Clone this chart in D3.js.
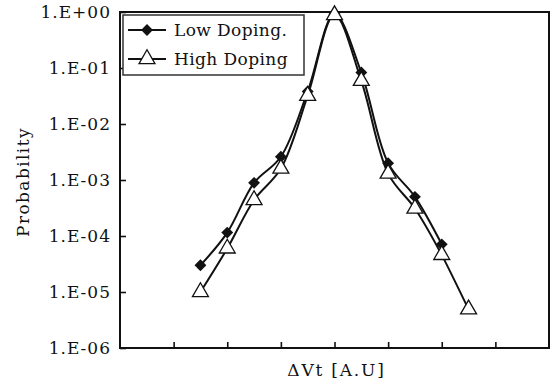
<!DOCTYPE html>
<html>
<head>
<meta charset="utf-8">
<script src="https://cdn.jsdelivr.net/npm/d3@7"></script>
<style>
  body { margin: 0; background: #fff; }
  text { font-family: "DejaVu Serif", serif; fill: #111; }
</style>
</head>
<body>
<svg id="stage" width="552" height="385"></svg>
<script>
/* ---------- data ---------- */

const x_ticks = [1, 2, 3, 4, 5, 6, 7];
const y_ticks = [1, 1e-1, 1e-2, 1e-3, 1e-4, 1e-5, 1e-6];
const y_tick_labels = ["1.E+00", "1.E-01", "1.E-02", "1.E-03", "1.E-04", "1.E-05", "1.E-06"];

const low_x = [1.5, 2, 2.5, 3, 3.5, 4, 4.5, 5, 5.5, 6];
const low_y = [3.0e-5, 1.15e-4, 8.9e-4, 2.6e-3, 3.8e-2, 0.92, 8.3e-2, 2.0e-3, 5.0e-4, 7.1e-5];

const high_x = [1.5, 2, 2.5, 3, 3.5, 4, 4.5, 5, 5.5, 6, 6.5];
const high_y = [1.0e-5, 6.0e-5, 4.4e-4, 1.6e-3, 3.2e-2, 0.88, 5.9e-2, 1.3e-3, 3.1e-4, 4.6e-5, 4.9e-6];

const series_names = ["Low Doping.", "High Doping"];

/* ---------- setup ---------- */

const svg = d3.select("#stage");
const plot_left = 120, plot_right = 549, plot_top = 12, plot_bottom = 348;

const x = d3.scaleLinear().domain([0, 8]).range([plot_left, plot_right]);
const y = d3.scaleLog().domain([1e-6, 1]).range([plot_bottom, plot_top]);

const line = d3.line()
  .x(d => x(d[0]))
  .y(d => y(d[1]))
  .curve(d3.curveCatmullRom.alpha(0.5));

/* ---------- axes ---------- */

svg.append("g")
  .attr("transform", `translate(0,${plot_bottom})`)
  .call(d3.axisBottom(x).tickValues(x_ticks).tickSize(-6).tickFormat(""))
  .call(g => g.select(".domain").remove())
  .selectAll("line").attr("stroke", "#111").attr("stroke-width", 1.6);

svg.append("g")
  .attr("transform", `translate(${plot_left},0)`)
  .call(d3.axisLeft(y).tickValues(y_ticks).tickSize(-6).tickPadding(9)
    .tickFormat((d, i) => y_tick_labels[i]))
  .call(g => g.select(".domain").remove())
  .call(g => g.selectAll("line").attr("stroke", "#111").attr("stroke-width", 1.6))
  .call(g => g.selectAll("text")
    .attr("font-family", "DejaVu Serif")
    .attr("font-size", 17)
    .attr("letter-spacing", 1)
    .attr("fill", "#111"));

svg.append("rect")
  .attr("x", plot_left).attr("y", plot_top)
  .attr("width", plot_right - plot_left).attr("height", plot_bottom - plot_top)
  .attr("fill", "none").attr("stroke", "#111").attr("stroke-width", 2);

svg.append("text")
  .attr("x", x(4) + 2).attr("y", 376)
  .attr("text-anchor", "middle")
  .attr("font-size", 17)
  .attr("letter-spacing", 1.8)
  .text("ΔVt [A.U]");

svg.append("text")
  .attr("transform", `translate(29,${(plot_top + plot_bottom) / 2 + 2}) rotate(-90)`)
  .attr("text-anchor", "middle")
  .attr("font-size", 17)
  .attr("letter-spacing", 1.4)
  .text("Probability");

/* ---------- series ---------- */

const low = low_x.map((v, i) => [v, low_y[i]]);
const high = high_x.map((v, i) => [v, high_y[i]]);

const plot = svg.append("g");

plot.append("path").datum(low)
  .attr("d", line).attr("fill", "none")
  .attr("stroke", "#111").attr("stroke-width", 2);
plot.append("path").datum(high)
  .attr("d", line).attr("fill", "none")
  .attr("stroke", "#111").attr("stroke-width", 2);

const diamond = d3.symbol().type(d3.symbolDiamond2).size(90);
const triangle = d3.symbol().type(d3.symbolTriangle).size(110);

plot.selectAll(".low").data(low).join("path")
  .attr("class", "low")
  .attr("transform", d => `translate(${x(d[0])},${y(d[1])})`)
  .attr("d", diamond)
  .attr("fill", "#111");

plot.selectAll(".high").data(high).join("path")
  .attr("class", "high")
  .attr("transform", d => `translate(${x(d[0])},${y(d[1])})`)
  .attr("d", triangle)
  .attr("fill", "#fff").attr("stroke", "#111").attr("stroke-width", 1.3);

/* ---------- legend ---------- */

const legend = svg.append("g").attr("transform", "translate(123,15)");
legend.append("rect")
  .attr("width", 181).attr("height", 60)
  .attr("fill", "#fff").attr("stroke", "#333").attr("stroke-width", 1.5);

series_names.forEach((name, i) => {
  const ly = 15 + i * 29;
  legend.append("line")
    .attr("x1", 5).attr("x2", 43).attr("y1", ly).attr("y2", ly)
    .attr("stroke", "#111").attr("stroke-width", 2);
  legend.append("path")
    .attr("transform", `translate(24,${ly})`)
    .attr("d", i === 0 ? diamond : triangle)
    .attr("fill", i === 0 ? "#111" : "#fff")
    .attr("stroke", "#111").attr("stroke-width", i === 0 ? 0 : 1.3);
  legend.append("text")
    .attr("x", 51).attr("y", ly + 6)
    .attr("font-size", 17)
    .attr("letter-spacing", 0.4)
    .text(name);
});
</script>
</body>
</html>
